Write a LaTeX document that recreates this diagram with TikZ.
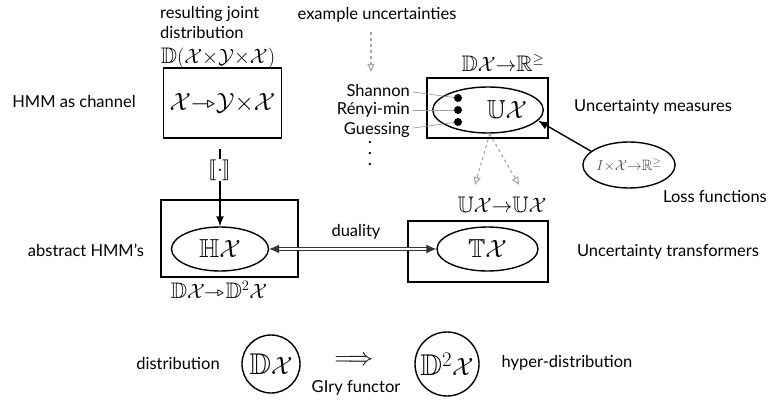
\documentclass[tikz,border=0pt]{standalone}
\usepackage{amssymb}
\usepackage{stmaryrd}
\usepackage{fontspec}
\setmainfont{Lato}
\usetikzlibrary{arrows.meta,shapes.geometric}
\begin{document}
\begin{tikzpicture}[x=1pt,y=-1pt,
  lbl/.style={font=\fontsize{16.5}{20}\selectfont, inner sep=0pt},
  mlbl/.style={font=\fontsize{22.5}{24}\selectfont, inner sep=0pt},
  box/.style={draw, line width=1.8pt, inner sep=0pt},
  ell/.style={draw, ellipse, line width=1.4pt, inner sep=0pt, font=\fontsize{26}{28}\selectfont},
  circ/.style={draw, circle, line width=1.4pt, inner sep=0pt, font=\fontsize{30}{32}\selectfont},
  blk/.style={line width=1.4pt, -{Latex[length=10pt,width=8pt]}},
  gdash/.style={draw=gray!70, line width=1.1pt, dash pattern=on 3pt off 3pt, -{Triangle[open,length=8pt,width=7pt]}},
  glead/.style={draw=gray!75, line width=0.7pt},
  dotn/.style={circle, fill, inner sep=0pt, minimum size=8pt}]
\useasboundingbox (0,0) rectangle (771,401);

% top-left: HMM as channel
\node[lbl, align=left, anchor=north west] (rjd) at (160,6) {resulting joint\\distribution};
\node[mlbl] (dxyx) at (218,58) {$\mathbb{D}(\mathcal{X}{\times}\mathcal{Y}{\times}\mathcal{X})$};
\node[box, minimum width=118pt, minimum height=70pt, font=\fontsize{25.5}{28}\selectfont] (b1) at (222.5,103) {$\mathcal{X}{\rightarrowtriangle}\mathcal{Y}{\times}\mathcal{X}$};
\node[lbl] (hmmch) at (74,101) {HMM as channel};

% abstract HMMs
\node[box, minimum width=137pt, minimum height=77pt] (b2) at (229.5,238.5) {};
\node[ell, minimum width=97pt, minimum height=44pt] (H) at (220,249) {$\mathbb{H}\mathcal{X}$};
\node[lbl] (abs) at (86,250) {abstract HMM's};
\node[mlbl] (dd2) at (219,290) {$\mathbb{D}\mathcal{X}{\rightarrowtriangle}\mathbb{D}^2\mathcal{X}$};
\draw[blk, shorten <=10pt] (b1.south -| H.north) -- (H.north);
\node[fill=white, inner sep=1pt, font=\fontsize{22}{24}\selectfont] (sem) at (220,170) {$\llbracket\cdot\rrbracket$};

% uncertainty transformers
\node[box, minimum width=140pt, minimum height=61pt] (b3) at (478,251.5) {};
\node[ell, minimum width=101pt, minimum height=44pt] (T) at (487.5,249) {$\mathbb{T}\mathcal{X}$};
\node[mlbl] (uu) at (502,205) {$\mathbb{U}\mathcal{X}{\to}\mathbb{U}\mathcal{X}$};
\node[lbl] (ut) at (668,252) {Uncertainty transformers};
\draw[draw=black!80, double=white, double distance=2pt, line width=0.9pt,
  {Latex[length=10pt,width=9pt]}-{Latex[length=10pt,width=9pt]}] (H) -- (T);
\node[lbl] (dual) at (356,232) {duality};

% uncertainty measures
\node[box, minimum width=121pt, minimum height=60pt] (b4) at (487.5,108) {};
\node[ell, minimum width=100pt, minimum height=46pt] (U) at (488,110) {\hspace{38pt}$\mathbb{U}\mathcal{X}$};
\node[mlbl] (dr) at (503,63) {$\mathbb{D}\mathcal{X}{\to}\mathbb{R}^{\geq}$};
\node[lbl] (um) at (653,107) {Uncertainty measures};
\node[lbl, anchor=east] (sh) at (410,90) {Shannon};
\node[lbl, anchor=east] (re) at (410,110) {Rényi-min};
\node[lbl, anchor=east] (gu) at (410,130) {Guessing};
\draw[glead] ([xshift=3pt,yshift=-2pt]sh.east) -- (458,98) coordinate (c1);
\draw[glead] ([xshift=3pt]re.east) -- (458,110) coordinate (c2);
\draw[glead] ([xshift=3pt,yshift=2pt]gu.east) -- (458,122) coordinate (c3);
\node[dotn] (d1) at (c1) {};
\node[dotn] (d2) at (c2) {};
\node[dotn] (d3) at (c3) {};
\node[align=center, inner sep=0pt, font=\rmfamily\fontsize{18}{11}\selectfont] (vd) at (370,154) {.\\.\\.};
\node[lbl] (ex) at (377,15) {example uncertainties};
\coordinate (exend) at (371,72);
\draw[gdash, shorten <=9pt] (ex.south -| exend) -- (exend);
\coordinate (ul) at (475,185);
\coordinate (ur) at (519,185);
\draw[gdash] (U.-86) -- (ul);
\draw[gdash] (U.-86) -- (ur);

% loss functions
\node[ell, minimum width=92pt, minimum height=46pt, font=\fontsize{15}{17}\selectfont, text=black!70] (L) at (629,165) {$I{\times}\mathcal{X}{\to}\mathbb{R}^{\geq}$};
\node[lbl] (lf) at (715,197) {Loss functions};
\draw[blk] (L.160) -- (U.-12);

% bottom row
\node[lbl] (dist) at (178,363) {distribution};
\node[circ, minimum size=58pt] (DX) at (271,364) {$\mathbb{D}\mathcal{X}$};
\node[inner sep=0pt, font=\fontsize{23}{25}\selectfont] (impl) at (354,361) {$\Longrightarrow$};
\node[lbl] (giry) at (356,388) {GIry functor};
\node[circ, minimum size=64pt] (D2X) at (447,364) {$\mathbb{D}^2\mathcal{X}$};
\node[lbl] (hd) at (567,363) {hyper-distribution};
\end{tikzpicture}
\end{document}
